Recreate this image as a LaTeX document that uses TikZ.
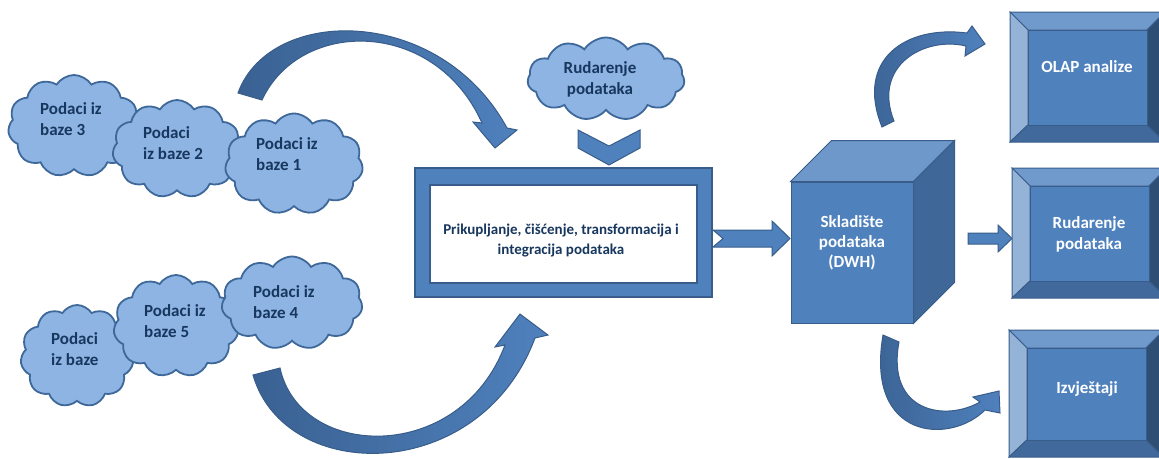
\documentclass[tikz,border=0pt]{standalone}
\usepackage{fontspec}
\setmainfont{Carlito}
\usetikzlibrary{shapes.symbols,calc}
\definecolor{cfill}{HTML}{8EB4E3}
\definecolor{cline}{HTML}{3D6899}
\definecolor{navy}{HTML}{17375E}
\definecolor{mid}{HTML}{4F81BD}
\definecolor{bord}{HTML}{385D8A}
\definecolor{dark}{HTML}{3A6192}
\definecolor{bevT}{HTML}{7099CC}
\definecolor{bevL}{HTML}{95B3D7}
\definecolor{bevB}{HTML}{41699B}
\definecolor{bevR}{HTML}{2F4E73}
\definecolor{cubeT}{HTML}{6E97CA}
\definecolor{cubeR}{HTML}{3F6898}
\newcommand\bevbox[5]{%
 \path[draw=bord,line width=1pt,fill=bevT] (#2,#3) -- (#4,#3) -- (#4-18,#3+18) -- (#2+18,#3+18) -- cycle;
 \path[draw=bord,line width=1pt,fill=bevL] (#2,#3) -- (#2+18,#3+18) -- (#2+18,#5-17) -- (#2,#5) -- cycle;
 \path[draw=bord,line width=1pt,fill=bevB] (#2,#5) -- (#2+18,#5-17) -- (#4-18,#5-17) -- (#4,#5) -- cycle;
 \path[draw=bord,line width=1pt,fill=bevR] (#4,#3) -- (#4-18,#3+18) -- (#4-18,#5-17) -- (#4,#5) -- cycle;
 \node[face, minimum width=#4-#2-36, minimum height=#5-#3-35] (#1) at ({(#2+#4)/2},{(#3+#5)/2+0.5}) {};
}
\begin{document}
\begin{tikzpicture}[x=1pt,y=-1pt,
 cloudbox/.style={cloud, cloud puffs=11, cloud puff arc=115, cloud ignores aspect, draw=cline, fill=cfill, line width=1.8pt, inner sep=0pt},
 cloudtxt/.style={anchor=north west, inner sep=0pt, align=left, text=navy, font=\bfseries\fontsize{17}{21}\selectfont},
 blk/.style={draw=bord, fill=mid, line width=1pt},
 curv/.style={draw=bord, line width=1pt, left color=dark, right color=mid},
 face/.style={draw=bord, line width=1pt, fill=mid, inner sep=0pt},
 whitetxt/.style={text=white, font=\bfseries\fontsize{17}{21}\selectfont, align=center, inner sep=0pt}
]
\useasboundingbox (0,0) rectangle (1159,458);

% curved arrows (left)
\path[curv] (238,93) .. controls (270,5) and (440,5) .. (507,128) -- (517,130) -- (495,148) -- (473,122) -- (482,123) .. controls (435,18) and (300,18) .. (262,100) -- cycle;
\path[curv] (253,375) .. controls (285,485) and (480,485) .. (535,338) -- (548,335) -- (520,314) -- (495,347) -- (505,345) .. controls (460,465) and (300,460) .. (280,368) -- cycle;

% upper clouds
\node[cloudbox, minimum width=132, minimum height=102] (c3) at (74,126) {};
\node[cloudtxt] (t3) at (40,102) {Podaci iz\\baze 3};
\node[cloudbox, minimum width=129, minimum height=98] (c2) at (177,149) {};
\node[cloudtxt] (t2) at (143,126) {Podaci\\iz baze 2};
\node[cloudbox, minimum width=138, minimum height=101] (c1) at (294,164) {};
\node[cloudtxt] (t1) at (256,137) {Podaci iz\\baze 1};

% lower clouds
\node[cloudbox, minimum width=113, minimum height=102] (cb) at (77,356) {};
\node[cloudtxt] (tb) at (51,332) {Podaci\\iz baze};
\node[cloudbox, minimum width=125, minimum height=102] (c5) at (176,326) {};
\node[cloudtxt] (t5) at (144,304) {Podaci iz\\baze 5};
\node[cloudbox, minimum width=141, minimum height=93] (c4) at (292,303) {};
\node[cloudtxt] (t4) at (253,285) {Podaci iz\\baze 4};

% data mining cloud
\node[cloudbox, minimum width=157, minimum height=83] (rud) at (606,79) {};
\node[inner sep=0pt, anchor=north, align=center, text=navy, font=\bfseries\fontsize{17}{21}\selectfont] (rudt) at (600,61) {Rudarenje\\podataka};

% chevron
\path[blk] (578,130) -- (609,146) -- (640,130) -- (640,148) -- (609,165) -- (578,148) -- cycle;

% ETL box
\node[blk, line width=1.2pt, minimum width=297, minimum height=129] (etl) at (563.5,232.5) {};
\node[draw=bord, fill=white, line width=2.5pt, minimum width=267, minimum height=98] (etlin) at (563.5,234) {};
\node[inner sep=0pt, align=center, text=navy, font=\bfseries\fontsize{15}{20}\selectfont] (etltxt) at (561,241) {Prikupljanje, čišćenje, transformacija i\\integracija podataka};

% notched arrow
\path[blk] (713,230) -- (772,230) -- (772,221) -- (790,238.5) -- (772,256) -- (772,247) -- (713,247) -- (723,238.5) -- cycle;

% cube
\node[blk, minimum width=122, minimum height=141] (dwh) at (852,252.5) {};
\path[blk, fill=cubeT] (dwh.north west) -- ++(41,-41) -- ($(dwh.north east)+(41,-41)$) -- (dwh.north east) -- cycle;
\path[blk, fill=cubeR] (dwh.north east) -- ++(41,-41) -- ($(dwh.south east)+(41,-41)$) -- (dwh.south east) -- cycle;
\node[whitetxt, font=\bfseries\fontsize{17}{20}\selectfont] (dwht) at (852,243) {Skladište\\podataka\\(DWH)};

% right arrows
\path[blk] (968,233) -- (998,233) -- (998,225) -- (1012,238.5) -- (998,252) -- (998,244) -- (968,244) -- cycle;
\path[curv] (882,127) .. controls (855,60) and (905,25) .. (967,33) -- (972,26) -- (985,44) -- (965,56) -- (966,46) .. controls (924,36) and (872,66) .. (894,121) -- cycle;
\path[curv] (883,335) .. controls (865,440) and (950,445) .. (985,410) -- (1000,413) -- (999,391) -- (973,397) -- (980,402) .. controls (945,422) and (886,412) .. (899,342) -- cycle;

% bevel boxes
\bevbox{olap}{1010}{12}{1165}{142}
\node[whitetxt] (olapt) at (1087,67) {OLAP analize};
\bevbox{rud2}{1012}{168}{1167}{298}
\node[whitetxt] (rud2t) at (1089,234) {Rudarenje\\podataka};
\bevbox{izv}{1009}{330}{1164}{457}
\node[whitetxt] (izvt) at (1087,389) {Izvještaji};
\end{tikzpicture}
\end{document}
